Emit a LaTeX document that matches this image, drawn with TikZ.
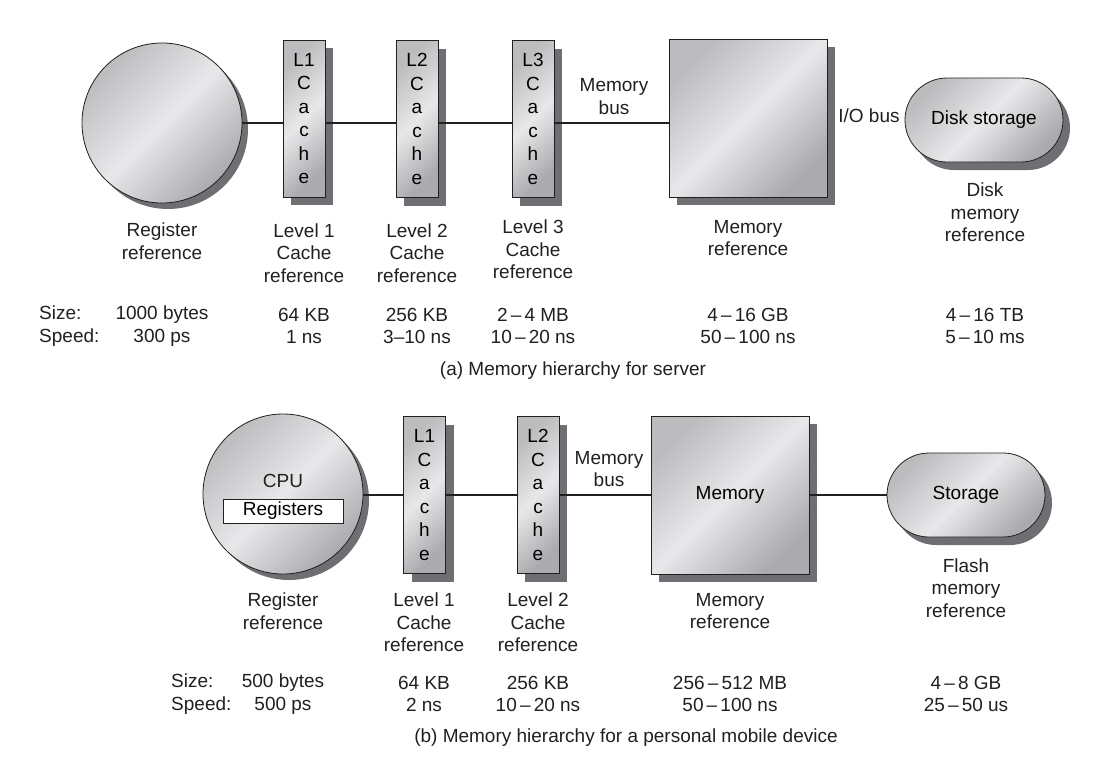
\documentclass[tikz,border=0pt]{standalone}
\usepackage{fontspec}
\setmainfont{Liberation Sans}
\usetikzlibrary{shadows}

\definecolor{shadetop}{HTML}{BCBCBF}
\definecolor{shademid}{HTML}{E8E8EA}
\definecolor{shadebot}{HTML}{ABABAF}
\definecolor{shadowgrey}{HTML}{6F6F73}
\definecolor{inkline}{HTML}{231F20}

\tikzset{
    greyface/.style={draw=inkline, line width=0.8pt, top color=shadetop, bottom color=shadebot, middle color=shademid, shading angle=45},
    cpuball/.style={greyface, circle, minimum size=160pt, inner sep=0pt,
        drop shadow={shadow xshift=6pt, shadow yshift=-6pt, fill=shadowgrey, opacity=1}},
    cachebox/.style={greyface, rectangle, minimum width=42pt, minimum height=157pt, inner sep=0pt, align=center,
        font=\fontsize{19}{23.5}\selectfont,
        drop shadow={shadow xshift=8pt, shadow yshift=-8pt, fill=shadowgrey, opacity=1}},
    membox/.style={greyface, rectangle, minimum size=158pt, inner sep=0pt,
        drop shadow={shadow xshift=8pt, shadow yshift=-8pt, fill=shadowgrey, opacity=1}},
    diskbox/.style={greyface, rectangle, rounded corners=42pt, minimum width=158pt, minimum height=84pt, inner sep=0pt,
        drop shadow={shadow xshift=7pt, shadow yshift=-8pt, fill=shadowgrey, opacity=1}},
    bus/.style={draw=inkline, line width=1.6pt},
    lbl/.style={align=center, inner sep=0pt, text=inkline}
}

\begin{document}
        \begin{tikzpicture}[x=1pt, y=-1pt, font=\fontsize{19}{22.5}\selectfont]
            \useasboundingbox (0, 0) rectangle (1104, 758);

            \coordinate (busa) at (0, 123);
            \node [cpuball] (reg1) at (162, 123) {};
            \node [cachebox] (l1a) at (304, 118.5) {L1\\C\\a\\c\\h\\e};
            \node [cachebox] (l2a) at (417, 119) {L2\\C\\a\\c\\h\\e};
            \node [cachebox] (l3a) at (533, 119) {L3\\C\\a\\c\\h\\e};
            \node [membox] (mema) at (748, 118) {};
            \node [diskbox] (diska) at (984, 120) {Disk storage};
            \draw [bus] (reg1.east) -- (l1a.west |- busa);
            \draw [bus] (l1a.east |- busa) -- (l2a.west |- busa);
            \draw [bus] (l2a.east |- busa) -- (l3a.west |- busa);
            \draw [bus] (l3a.east |- busa) -- (mema.west |- busa);
            \node [lbl] (membusa) at (614, 96.5) {Memory\\bus};
            \node [lbl] (iobus) at (869, 116) {I/O bus};

            \node [lbl] (regrefa) at (162, 241) {Register\\reference};
            \node [lbl] (l1refa) at (304, 253) {Level 1\\Cache\\reference};
            \node [lbl] (l2refa) at (417, 253) {Level 2\\Cache\\reference};
            \node [lbl] (l3refa) at (533, 249.5) {Level 3\\Cache\\reference};
            \node [lbl] (memrefa) at (748, 238) {Memory\\reference};
            \node [lbl] (diskrefa) at (985, 212.5) {Disk\\memory\\reference};

            \node [lbl, anchor=west, align=left] (rowsa) at (39, 326) {Size:\\Speed:};
            \node [lbl] (regvala) at (162, 326) {1000 bytes\\300 ps};
            \node [lbl] (l1vala) at (304, 326) {64 KB\\1 ns};
            \node [lbl] (l2vala) at (417, 326) {256 KB\\3--10 ns};
            \node [lbl] (l3vala) at (533, 326) {2\,--\,4 MB\\10\,--\,20 ns};
            \node [lbl] (memvala) at (748, 326) {4\,--\,16 GB\\50\,--\,100 ns};
            \node [lbl] (diskvala) at (985, 326) {4\,--\,16 TB\\5\,--\,10 ms};
            \node [lbl] (captiona) at (573, 371) {(a) Memory hierarchy for server};

            \coordinate (busb) at (0, 495);
            \node [cpuball] (reg2) at (283, 494) {};
            \node [lbl] (cpu) at (283, 481) {CPU};
            \node [draw=inkline, line width=0.8pt, fill=white, minimum width=120pt, minimum height=24pt, inner sep=0pt] (regs) at (283, 511) {Registers};
            \node [cachebox] (l1b) at (424.5, 495) {L1\\C\\a\\c\\h\\e};
            \node [cachebox] (l2b) at (538, 495) {L2\\C\\a\\c\\h\\e};
            \node [membox] (memb) at (730, 495) {Memory};
            \node [diskbox] (storb) at (966, 495) {Storage};
            \draw [bus] (reg2.east |- busb) -- (l1b.west |- busb);
            \draw [bus] (l1b.east |- busb) -- (l2b.west |- busb);
            \draw [bus] (l2b.east |- busb) -- (memb.west |- busb);
            \draw [bus] (memb.east |- busb) -- (storb.west |- busb);
            \node [lbl] (membusb) at (609, 469) {Memory\\bus};

            \node [lbl] (regrefb) at (283, 611) {Register\\reference};
            \node [lbl] (l1refb) at (424, 622.5) {Level 1\\Cache\\reference};
            \node [lbl] (l2refb) at (538, 622.5) {Level 2\\Cache\\reference};
            \node [lbl] (memrefb) at (730, 611) {Memory\\reference};
            \node [lbl] (flashref) at (966, 588) {Flash\\memory\\reference};

            \node [lbl, anchor=west, align=left] (rowsb) at (171, 694) {Size:\\Speed:};
            \node [lbl] (regvalb) at (283, 694) {500 bytes\\500 ps};
            \node [lbl] (l1valb) at (424, 694) {64 KB\\2 ns};
            \node [lbl] (l2valb) at (538, 694) {256 KB\\10\,--\,20 ns};
            \node [lbl] (memvalb) at (730, 694) {256\,--\,512 MB\\50\,--\,100 ns};
            \node [lbl] (storvalb) at (966, 694) {4\,--\,8 GB\\25\,--\,50 us};
            \node [lbl] (captionb) at (626, 738) {(b) Memory hierarchy for a personal mobile device};
        \end{tikzpicture}
\end{document}
